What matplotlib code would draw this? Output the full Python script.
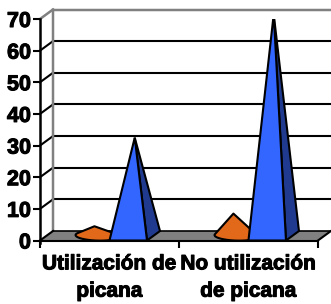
import numpy as np
import matplotlib
matplotlib.use("Agg")
import matplotlib.pyplot as plt
import matplotlib.patheffects as pe
from matplotlib.patches import Polygon

plt.rcParams['font.family'] = ['Liberation Sans', 'DejaVu Sans']

categories = ["Utilización de\npicana", "No utilización\nde picana"]
orange_values = [3, 7]
blue_values = [31, 70]
y_ticks = [0, 10, 20, 30, 40, 50, 60, 70]

# layout / style
DPI = 100
W, H = 331, 304
bw = 0.27            # bar width in category units
dx, dy = 0.0935, 3.0  # depth offset (category units, value units)
xmax = 2.094
ymax = 70

fig = plt.figure(figsize=(W / DPI, H / DPI), dpi=DPI)
ax = fig.add_axes([40 / W, (H - 240.5) / H, 1 - 40 / W, (240.5 - 19) / H])
ax.set_xlim(0, xmax)
ax.set_ylim(0, ymax)
for s in ax.spines.values():
    s.set_visible(False)

grey = '#808080'
lw = 1.5

# floor
floor = Polygon([(0, 0), (2, 0), (2 + dx, dy), (dx, dy)], closed=True,
                facecolor=grey, edgecolor='none', clip_on=False, zorder=1)
ax.add_patch(floor)
ax.plot([0, 2], [0, 0], color='black', lw=lw, clip_on=False, zorder=2)
ax.plot([2, 2 + dx], [0, dy], color='black', lw=lw, clip_on=False, zorder=2)
ax.plot([dx, xmax], [dy, dy], color='black', lw=lw * 0.8, clip_on=False, zorder=2)
ax.plot([0, dx], [0, dy], color='black', lw=lw, clip_on=False, zorder=2)

# back wall gridlines and left-wall diagonals
for v in y_ticks[1:-1]:
    ax.plot([dx, xmax], [v + dy, v + dy], color='black', lw=lw, clip_on=False, zorder=1)
    ax.plot([0, dx], [v, v + dy], color='black', lw=lw, clip_on=False, zorder=1)
top = y_ticks[-1]
ax.plot([dx, xmax], [top + dy, top + dy], color=grey, lw=lw * 1.2, clip_on=False, zorder=1)
ax.plot([0, dx], [top, top + dy], color=grey, lw=lw * 1.2, clip_on=False, zorder=1)
ax.plot([dx, dx], [dy, top + dy], color=grey, lw=lw * 1.2, clip_on=False, zorder=1)

# front axis
ax.plot([0, 0], [-0.9, top], color='black', lw=1.8, clip_on=False, zorder=6)


def hull(pts):
    pts = sorted(map(tuple, pts))
    def cross(o, a, b):
        return (a[0] - o[0]) * (b[1] - o[1]) - (a[1] - o[1]) * (b[0] - o[0])
    lower, upper = [], []
    for p in pts:
        while len(lower) >= 2 and cross(lower[-2], lower[-1], p) <= 0:
            lower.pop()
        lower.append(p)
    for p in reversed(pts):
        while len(upper) >= 2 and cross(upper[-2], upper[-1], p) <= 0:
            upper.pop()
        upper.append(p)
    return lower[:-1] + upper[:-1]


for i, (ov, bv) in enumerate(zip(orange_values, blue_values)):
    c = i + 0.5
    # orange cone
    xc = c - bw / 2
    cx, cy = xc + dx / 2, dy / 2
    t = np.linspace(0, 2 * np.pi, 120)
    ex = cx + (bw / 2 + 0.02) * np.cos(t) + (dx / 2) * np.sin(t) * 0.3
    ey = cy + (dy / 2) * np.sin(t) - 0.35 * np.cos(t)
    apex = (cx - 0.02, ov + dy / 2)
    pts = list(zip(ex, ey)) + [apex]
    cone = Polygon(hull(pts), closed=True, facecolor='#E2681A', edgecolor='black',
                   lw=lw, zorder=3, joinstyle='round')
    ax.add_patch(cone)
    # blue pyramid
    x0, x1 = c, c + bw
    apex = ((x0 + x1) / 2 + dx / 2, bv + dy / 2)
    right = Polygon([(x1, 0), (x1 + dx, dy), apex], closed=True,
                    facecolor='#1F3A8F', edgecolor='black', lw=lw, zorder=4)
    front = Polygon([(x0, 0), (x1, 0), apex], closed=True,
                    facecolor='#3366FF', edgecolor='black', lw=lw, zorder=5)
    ax.add_patch(right)
    ax.add_patch(front)

# ticks
stroke = [pe.withStroke(linewidth=0.75, foreground='black')]
ax.set_yticks(y_ticks)
ax.set_yticklabels([str(v) for v in y_ticks], fontsize=15.5, fontweight='bold')
ax.tick_params(axis='y', length=5, width=1.5, pad=1.5, color='black')
ax.set_xticks([i + 0.5 for i in range(len(categories))])
ax.set_xticklabels(categories, fontsize=15, fontweight='bold', linespacing=1.55)
ax.tick_params(axis='x', which='major', length=0, pad=10)
ax.set_xticks([0, 1, 2], minor=True)
ax.tick_params(axis='x', which='minor', length=5, width=1.5, color='black', direction='out')
for lab in ax.get_yticklabels() + ax.get_xticklabels():
    lab.set_path_effects(stroke)

fig.savefig('out.png', dpi=DPI)
